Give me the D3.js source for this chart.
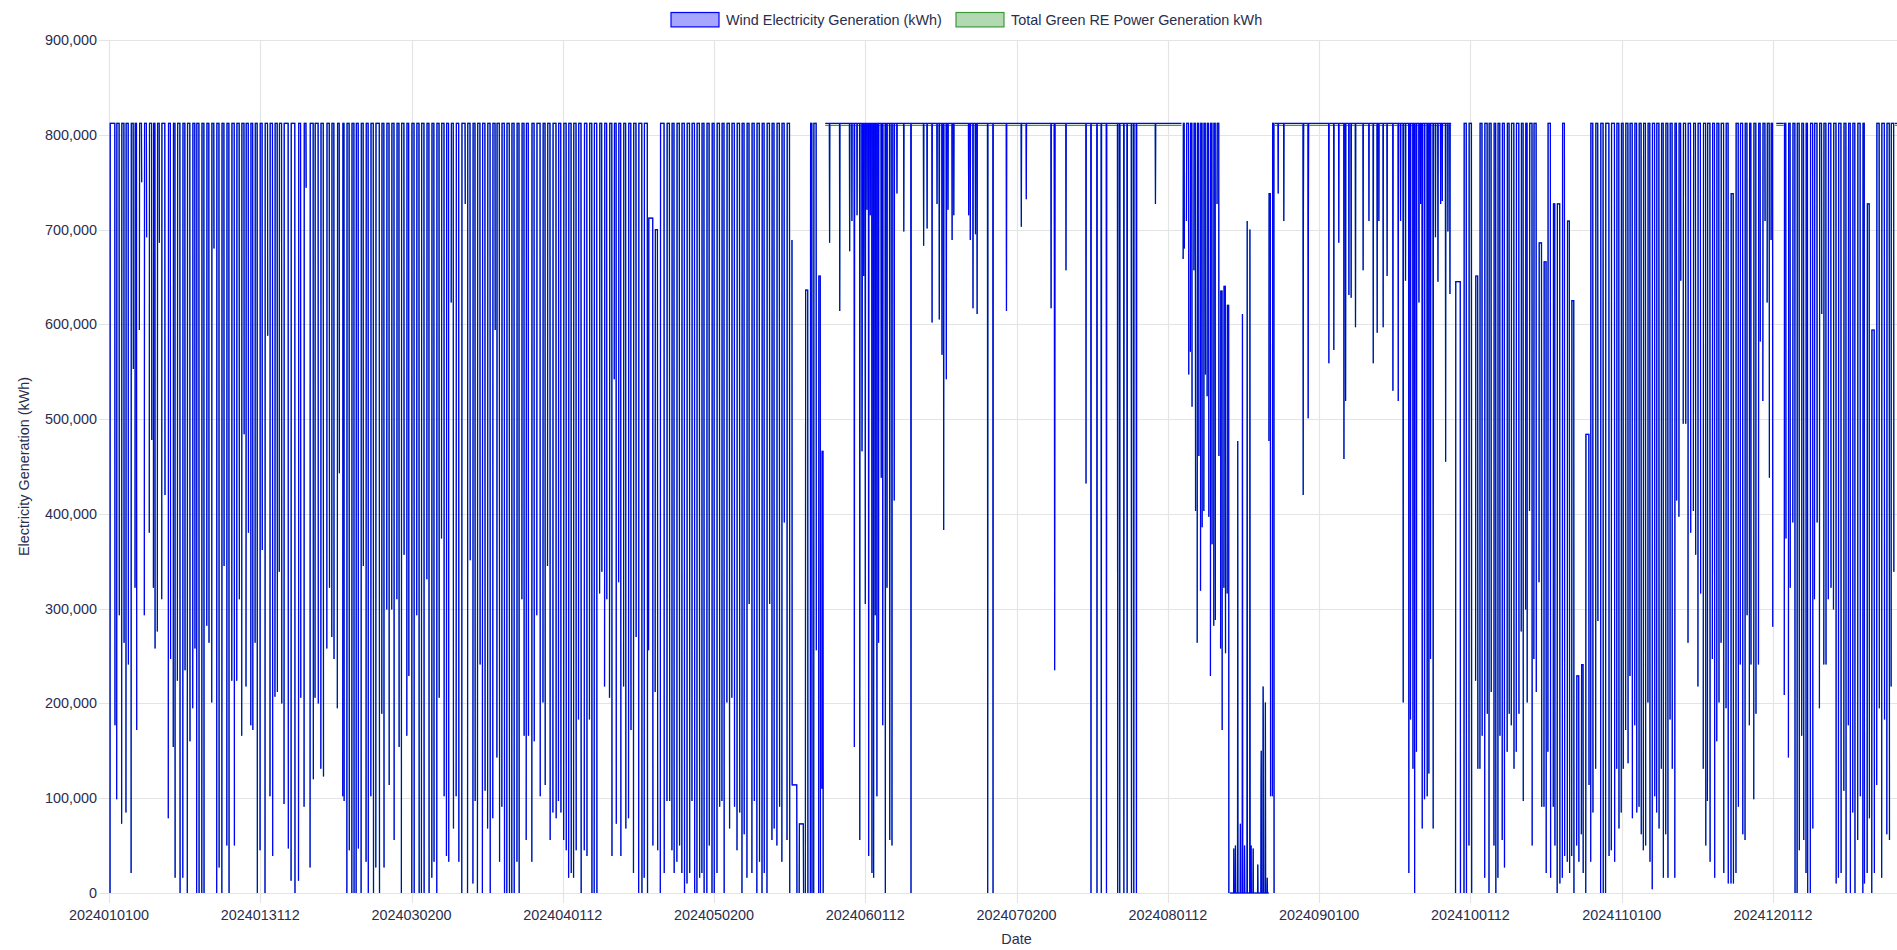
<!DOCTYPE html>
<html><head><meta charset="utf-8">
<script src="https://cdn.jsdelivr.net/npm/d3@7"></script>
<style>html,body{margin:0;padding:0;overflow:hidden;background:#fff}</style>
</head><body><svg id="c"></svg>
<script>
// x tick labels (YYYYMMDDHH, hourly category axis)
const tickLabels = ["2024010100","2024013112","2024030200","2024040112","2024050200","2024060112","2024070200","2024080112","2024090100","2024100112","2024110100","2024120112"];
const yTickValues = [0,100000,200000,300000,400000,500000,600000,700000,800000,900000];
const capacityK = 812;   // flat top level of the wind series, thousand kWh
const totalTopK = 810;   // total green line peeks just under the wind line on flat stretches

// Legs of the dense stretches: [hour index, bottom (thousand kWh), optional top]
const janLegs = [[5,0],[29,177],[37,99],[50,293],[61,73],[73,264],[82,85],[94,241],[107,21],[118,553],[126,322],[134,172],[147,594],[158,750],[171,293],[182,692],[195,380],[207,478],[215,322],[223,258],[234,276],[244,686],[255,310],[271,420],[287,79],[298,247],[311,154],[320,16],[331,224],[344,0],[357,16],[368,235],[379,0],[392,160],[405,195],[416,258],[424,0],[436,0],[449,0],[460,0],[473,282],[484,264],[497,201],[508,680],[521,0],[533,27],[546,0],[557,345],[570,50],[581,0],[594,224],[607,50],[618,224],[631,310],[642,166],[654,484],[663,218],[675,380],[686,177],[696,172],[707,264],[718,0],[731,45],[742,362],[755,0],[768,588],[779,102],[792,39],[803,207],[815,212],[824,339]];
const febLegs = [[836,200],[847,94],[868,47],[881,13],[900,0],[917,13],[928,206],[944,91],[954,744],[973,27],[989,120],[997,206],[1013,200],[1025,131],[1038,123],[1054,258],[1067,322],[1078,270],[1089,247],[1105,195],[1115,443],[1131,102],[1138,97],[1151,0],[1163,45],[1175,0],[1186,0],[1196,0],[1207,47],[1220,0],[1231,345],[1244,33],[1255,0],[1267,102],[1280,0],[1291,27],[1309,0],[1320,189],[1331,27],[1344,299],[1356,114],[1368,299],[1380,56],[1393,310],[1404,154],[1415,0],[1428,357],[1441,166],[1451,229],[1465,0],[1477,0],[1489,293],[1501,0],[1512,0],[1525,0],[1538,331],[1549,0],[1562,16],[1573,33],[1586,0],[1598,206],[1609,374],[1622,102],[1633,39],[1644,33],[1656,623],[1667,68],[1680,102],[1693,33]];
const marLegs = [[1707,0],[1724,727],[1735,0],[1748,351],[1761,10],[1772,97],[1783,0],[1796,241],[1807,0],[1820,108],[1832,68],[1845,0],[1857,79],[1869,594],[1877,143],[1890,33],[1901,91],[1914,0],[1925,0],[1938,0],[1949,0],[1961,0],[1974,33],[1985,0],[1998,310],[2009,166],[2019,56],[2030,166],[2046,33],[2058,160],[2070,293],[2087,102],[2100,201],[2111,114],[2122,345],[2135,56],[2148,85],[2164,79],[2175,97],[2187,85],[2200,56],[2213,45],[2224,16],[2237,21],[2248,16],[2261,45],[2272,183],[2285,0],[2300,45],[2313,39],[2325,183],[2337,0],[2348,0],[2361,0],[2374,316],[2385,339],[2398,218],[2409,310],[2422,206],[2434,39],[2445,542],[2455,73],[2466,328],[2477,39],[2490,218],[2501,68],[2514,79],[2526,172],[2538,21],[2551,270],[2563,0]];
const aprMayLegs = [[2579,0],[2590,16],[2606,0],[2611,256],[2632,50,712],[2643,212],[2655,45,700],[2668,0],[2687,21],[2700,97],[2713,97],[2724,45],[2735,21],[2748,33],[2761,50],[2772,21],[2785,0],[2797,10],[2810,21],[2821,97],[2834,0],[2845,0],[2858,16],[2869,21],[2880,0],[2893,0],[2905,50],[2918,0],[2929,0],[2942,21],[2955,91],[2966,97],[2977,0],[2990,201],[3003,68],[3014,206],[3027,91],[3039,45],[3052,85],[3063,0],[3074,62],[3087,16],[3098,305],[3111,21],[3123,97],[3135,0],[3148,33],[3160,0],[3171,21],[3184,0],[3197,305],[3208,56],[3219,68],[3232,50],[3245,91],[3256,33],[3268,391],[3281,56],[3294,0],[3305,689],[3329,0,114],[3340,0],[3361,0,73],[3370,0],[3382,0,636],[3394,0],[3402,0],[3410,0],[3423,256],[3434,0],[3443,0,651],[3450,110],[3456,0,466],[3461,0]];
const augLegs = [[5198,669],[5204,680],[5214,709],[5225,547],[5233,571],[5241,513],[5250,657],[5258,403],[5266,264],[5274,461],[5282,319],[5290,386],[5298,403],[5306,547],[5314,524],[5322,397],[5330,229],[5338,368],[5346,282],[5354,288],[5362,727],[5371,461],[5379,258],[5387,172,635],[5395,322],[5403,253,640],[5411,316,620],[5419,0],[5613,477,738],[5621,102],[5630,102],[5638,0]];
const octLegs = [[6516,0,645],[6540,0],[6557,0],[6569,0],[6581,50],[6594,0],[6613,224],[6624,131,651],[6634,131],[6645,166],[6657,16],[6670,189],[6678,0],[6689,212],[6702,50],[6711,0],[6721,16],[6731,166],[6742,56],[6753,27],[6766,149],[6776,189],[6786,177],[6799,131],[6810,149],[6823,189],[6834,276],[6844,97],[6855,299],[6863,201],[6874,403],[6887,50],[6895,247],[6907,212],[6920,328]];
const novLegs = [[6933,91,686],[6944,91],[6955,21,666],[6963,149],[6976,16],[6989,91],[6997,50,727],[7008,0],[7021,10,727],[7033,16],[7044,39],[7057,33],[7068,21,709],[7078,39],[7089,0,625],[7102,50],[7113,33,229],[7125,62],[7134,21,241],[7146,0],[7162,114,484],[7170,33],[7181,85],[7194,131],[7205,287],[7218,0],[7231,0],[7242,0],[7259,39],[7270,45],[7286,33],[7296,131],[7307,68],[7318,85],[7328,131],[7339,172],[7351,137],[7360,229],[7372,79],[7383,177],[7393,85],[7404,91],[7415,62],[7425,45],[7436,50],[7447,201],[7457,33],[7468,4],[7480,102],[7489,85],[7501,68],[7512,131],[7522,16],[7533,62],[7544,16],[7554,183],[7565,131],[7577,16],[7586,414],[7597,397],[7606,646],[7618,495],[7630,495],[7641,264],[7654,380],[7667,403],[7678,357],[7689,218],[7702,316],[7715,131],[7727,50],[7735,97],[7748,33],[7759,247],[7770,16],[7780,160],[7791,201]];
const decLegsA = [[7801,264],[7814,21],[7825,195],[7836,10],[7849,10],[7861,10,738],[7873,21],[7885,91],[7894,241],[7906,62],[7917,56],[7927,293],[7938,177],[7946,241],[7959,99],[7970,189],[7982,241],[7991,582],[8003,519],[8014,709],[8024,623],[8035,438],[8043,689],[8051,281],[8062,646]];
const decLegsB = [[8107,209],[8115,374],[8127,143],[8136,322],[8148,391],[8159,0],[8169,0],[8180,45],[8191,166],[8201,56],[8212,21],[8220,0],[8233,0],[8245,68],[8253,310],[8266,391],[8277,195],[8288,611],[8298,241],[8309,241],[8320,310],[8333,322],[8345,299],[8358,10],[8369,16],[8382,21],[8395,108],[8406,0],[8417,177],[8427,0],[8438,85],[8449,0],[8462,56],[8475,102],[8487,0],[8495,10],[8508,21,727],[8519,79],[8530,0,594],[8543,21],[8554,114],[8567,195],[8578,16],[8592,183],[8603,62],[8616,56],[8624,218],[8637,339]];

// Stretches where the line sits on the flat top: [start hour, end hour]
const flatSpans = [[3466,5190],[5642,6495],[8068,8104],[8642,8660]];
// Dips from the flat top: [hour, value (thousand kWh)]
const flatDips = [[3487,686],[3536,614],[3584,677],[3595,709],[3607,154],[3620,715],[3633,56],[3644,466],[3645,560],[3652,651],[3660,305],[3668,721],[3676,39],[3684,715],[3692,21],[3700,16],[3708,293],[3716,102],[3724,264],[3737,438],[3744,177],[3757,0],[3765,322],[3778,56],[3789,50],[3800,414],[3813,738],[3846,698],[3881,0],[3942,683],[3959,701],[3983,602],[4007,727],[4018,605],[4031,568],[4039,383],[4052,542],[4060,721],[4080,689],[4088,715],[4160,715],[4168,689],[4181,617],[4193,695],[4201,611],[4252,0],[4278,0],
  [4343,614],[4415,703],[4439,732],[4559,617],[4575,657],[4576,235],[4577,536],[4631,657],[4728,432],[4752,0],[4781,0],[4802,0],[4827,0],[4881,0],[4891,0],[4911,0],[4927,0],[4948,0],[4959,0],[4972,0],[5064,727],
  [5658,738],[5685,709],[5779,420],[5780,720],[5803,501],[5804,700],[5903,559],[5927,573],[5951,686],[5976,458],[5984,519],[6000,631],[6011,628],[6032,597],
  [6069,657],[6097,709],[6118,559],[6137,591],[6145,709],[6166,597],[6185,651],[6213,530],[6239,519],[6250,709],[6263,201],[6274,646],[6290,21],[6298,183],[6310,131],[6318,0],[6327,149],[6339,623],[6347,727],[6355,68],[6366,99],[6379,102],[6387,126],[6395,247],[6408,68],[6419,692],[6431,645],[6444,727],[6452,730],[6468,455],[6479,698],[6489,632]];
// Stretch where the line sits on zero, with rises: [start, end] and [hour, value]
const zeroSpans = [[5424,5612]];
const zeroRises = [[5443,47],[5451,50],[5462,477],[5475,73],[5485,611],[5495,50],[5508,709],[5521,700],[5527,50],[5537,47],[5559,30],[5575,114],[5576,150],[5585,218],[5586,180],[5596,201],[5605,16]];

(function(){
const W = 1936, H = 950;
const mL = 109, mR = 1924, mT = 40, mB = 893;
const font = '"Liberation Sans", Arial, Helvetica, sans-serif';
const textColor = '#2a2d4e';

function labelHour(s){
  const d = Date.UTC(+s.slice(0,4), +s.slice(4,6)-1, +s.slice(6,8), +s.slice(8,10));
  return (d - Date.UTC(2024,0,1))/3600000;
}

const svg = d3.select('#c').attr('width', W).attr('height', H);
const x = d3.scaleLinear().domain([0, 8783]).range([mL, mR]);
const y = d3.scaleLinear().domain([0, 900000]).range([mB, mT]);

const g = svg.append('g');
g.selectAll('line.hy').data(yTickValues).join('line')
  .attr('x1', mL-10).attr('x2', mR).attr('y1', d=>Math.round(y(d))+0.5).attr('y2', d=>Math.round(y(d))+0.5)
  .attr('stroke', '#e4e4e4').attr('stroke-width', 1.2);
g.selectAll('line.vx').data(tickLabels).join('line')
  .attr('x1', d=>Math.round(x(labelHour(d)))+0.5).attr('x2', d=>Math.round(x(labelHour(d)))+0.5)
  .attr('y1', mT).attr('y2', mB+10)
  .attr('stroke', '#e4e4e4').attr('stroke-width', 1.2);

svg.selectAll('text.yt').data(yTickValues).join('text')
  .attr('x', mL-12).attr('y', d=>y(d)).attr('dy','0.35em').attr('text-anchor','end')
  .style('font', `14.4px ${font}`).attr('fill', textColor).text(d3.format(','));
svg.selectAll('text.xt').data(tickLabels).join('text')
  .attr('x', d=>x(labelHour(d))).attr('y', mB+22).attr('dy','0.35em').attr('text-anchor','middle')
  .style('font', `14.4px ${font}`).attr('fill', textColor).text(d=>d);
svg.append('text').attr('transform', `translate(24,${(mT+mB)/2}) rotate(-90)`).attr('text-anchor','middle').attr('dy','0.35em')
  .style('font', `14.4px ${font}`).attr('fill', textColor).text('Electricity Generation (kWh)');
svg.append('text').attr('x', (mL+mR)/2).attr('y', 939).attr('text-anchor','middle').attr('dy','0.35em')
  .style('font', `14.4px ${font}`).attr('fill', textColor).text('Date');

// ---- assemble point lists (null = break in the line)
function runsFromLegs(legs, pts){
  for (let i=0;i+1<legs.length;i+=2){
    const a = legs[i], b = legs[i+1];
    const topK = Math.max(a[2]||0, b[2]||0) || capacityK;
    pts.push([a[0], a[1]*1000],[a[0]+1, topK*1000],[b[0]-1, topK*1000],[b[0], b[1]*1000], null);
  }
}
function spanWithEvents(span, baseK, events, pts){
  const [s,e] = span;
  const base = baseK*1000;
  const ev = events.filter(d=>d[0]>s && d[0]<e).sort((p,q)=>p[0]-q[0]);
  pts.push([s, base]);
  let lastH = s;
  ev.forEach((d,i)=>{
    if (d[0]-1 > lastH) pts.push([d[0]-1, base]);
    pts.push([d[0], d[1]*1000]);
    lastH = d[0];
    const nxt = ev[i+1];
    if (!nxt || nxt[0] > d[0]+1) { pts.push([d[0]+1, base]); lastH = d[0]+1; }
  });
  if (e > lastH) pts.push([e, base]);
  pts.push(null);
}
function build(flatK){
  const pts = [];
  [janLegs.concat(febLegs, marLegs, aprMayLegs), augLegs, octLegs.concat(novLegs, decLegsA), decLegsB]
    .forEach(l=>runsFromLegs(l, pts));
  flatSpans.forEach(sp=>spanWithEvents(sp, flatK, flatDips, pts));
  zeroSpans.forEach(sp=>spanWithEvents(sp, 0, zeroRises, pts));
  return pts;
}
const windPts = build(capacityK);
const totalPts = build(totalTopK);

const line = d3.line().defined(d=>d!==null).x(d=>x(d[0])).y(d=>y(d[1]));
const plot = svg.append('g');
plot.append('path').datum(totalPts).attr('d', line).attr('fill','none').attr('stroke','#3c9a3c').attr('stroke-width',1.2);
plot.append('path').datum(windPts).attr('d', line).attr('fill','none').attr('stroke','#0000ff').attr('stroke-width',1.2);

const legend = [
  {label:'Wind Electricity Generation (kWh)', fill:'rgba(0,0,255,0.35)', stroke:'#0000ff', x:671},
  {label:'Total Green RE Power Generation kWh', fill:'rgba(0,128,0,0.3)', stroke:'#3c9a3c', x:956}
];
const lg = svg.append('g');
legend.forEach(l=>{
  lg.append('rect').attr('x', l.x).attr('y', 12.5).attr('width', 48).attr('height', 14.4).attr('fill', l.fill).attr('stroke', l.stroke).attr('stroke-width',1.2);
  lg.append('text').attr('x', l.x+55).attr('y', 19.7).attr('dy','0.35em').style('font', `14.4px ${font}`).attr('fill', textColor).text(l.label);
});
})();
</script></body></html>
